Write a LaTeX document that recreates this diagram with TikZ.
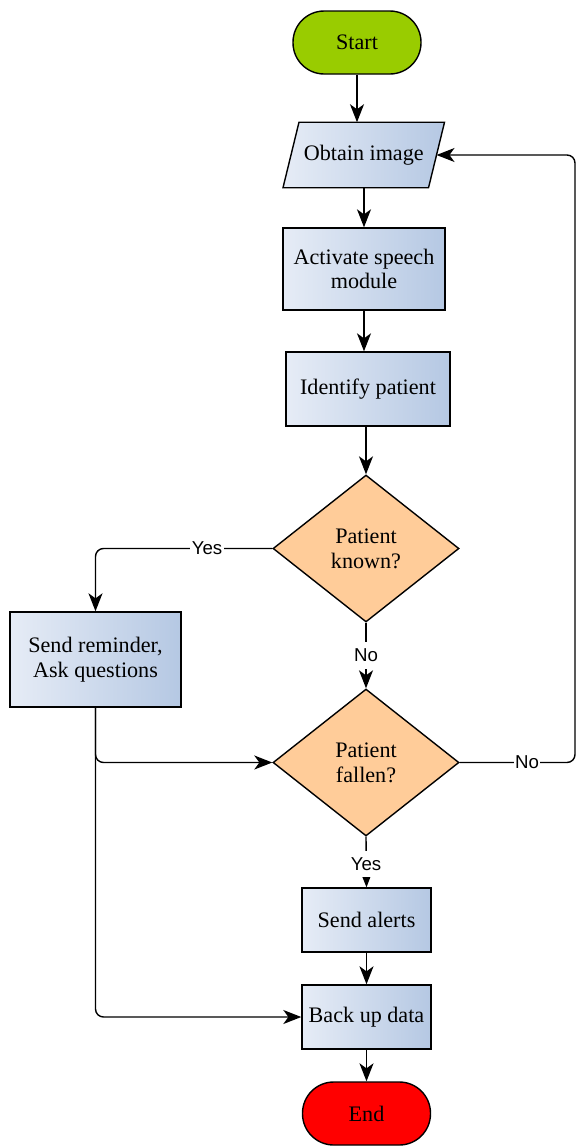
\documentclass[tikz,border=0pt]{standalone}
\usepackage{fontspec}
\setmainfont{Liberation Serif}
\newfontfamily\lblfont{Liberation Sans}
\usetikzlibrary{shapes.geometric,arrows.meta,backgrounds}
\definecolor{boxL}{HTML}{E6ECF6}
\definecolor{boxR}{HTML}{B5C8E3}
\definecolor{startG}{HTML}{99CC00}
\definecolor{decO}{HTML}{FFCC99}
\begin{document}
\begin{tikzpicture}[x=0.75pt,y=-0.75pt,
  every node/.style={font=\fontsize{16.6}{18.5}\selectfont, align=center},
  proc/.style={draw, line width=1.05pt, left color=boxL, right color=boxR, inner sep=0pt},
  term/.style={draw, line width=1.05pt, rounded corners=23.4pt, minimum width=96pt, minimum height=47.25pt, inner sep=0pt},
  dec/.style={diamond, draw, line width=1.05pt, fill=decO, minimum width=139.5pt, minimum height=110.25pt, inner sep=0pt},
  conn/.style={line width=1.05pt, -{Stealth[length=13.5pt,width=10.5pt,inset=3.8pt]}},
  lbl/.style={font=\lblfont\fontsize{14}{16}\selectfont, fill=white, inner sep=1pt, minimum height=20pt}
]
\useasboundingbox (0,0) rectangle (576,1146);

% nodes
\node[term, fill=startG] (start) at (357,42.5) {Start};
\node[minimum width=108.75pt, minimum height=48.75pt, inner sep=0pt] (obt) at (363.75,155) {Obtain image};
\begin{scope}[on background layer]
\path[draw, line width=1.05pt, left color=boxL, right color=boxR]
  ([xshift=6pt]obt.north west) -- ([xshift=6pt]obt.north east) --
  ([xshift=-6pt]obt.south east) -- ([xshift=-6pt]obt.south west) -- cycle;
\end{scope}
\node[proc, minimum width=121.5pt, minimum height=61.5pt] (act) at (364,269) {Activate speech\\module};
\node[proc, minimum width=123pt, minimum height=55.5pt] (idp) at (368,389) {Identify patient};
\node[dec] (known) at (366,548.5) {Patient\\known?};
\node[proc, minimum width=128.25pt, minimum height=71.25pt] (rem) at (95.5,659.5) {Send reminder,\\Ask questions};
\node[dec] (fallen) at (366,762.5) {Patient\\fallen?};
\node[proc, minimum width=96.75pt, minimum height=48pt] (alert) at (366.5,920) {Send alerts};
\node[proc, minimum width=96.75pt, minimum height=48pt] (backup) at (366.5,1017) {Back up data};
\node[term, fill=red] (end) at (366.5,1113.5) {End};
\coordinate (loopR) at (575,155);

% connectors
\draw[conn] (start) -- (start |- obt.north);
\draw[conn] (act |- obt.south) -- (act.north);
\draw[conn] (act.south) -- (act.south |- idp.north);
\draw[conn] (known |- idp.south) -- (known.north);
\draw[conn, rounded corners=6pt] (known.west) -| (rem.north);
\node[lbl] (lyes1) at (207,548.5) {Yes};
\draw[conn] (known.south) -- (fallen.north);
\node[lbl] (lno1) at (366,655.5) {No};
\draw[conn, rounded corners=6pt] (fallen.east) -| (loopR) -- (obt.east);
\node[lbl] (lno2) at (527,762.5) {No};
\draw[conn, rounded corners=6pt] (rem.south) |- (fallen.west);
\draw[conn, rounded corners=6pt] (rem.south) |- (backup.west);
\draw[conn] (fallen.south) -- (alert.north);
\node[lbl] (lyes2) at (366,864) {Yes};
\draw[conn] (alert) -- (backup);
\draw[conn] (backup) -- (end);
\end{tikzpicture}
\end{document}
